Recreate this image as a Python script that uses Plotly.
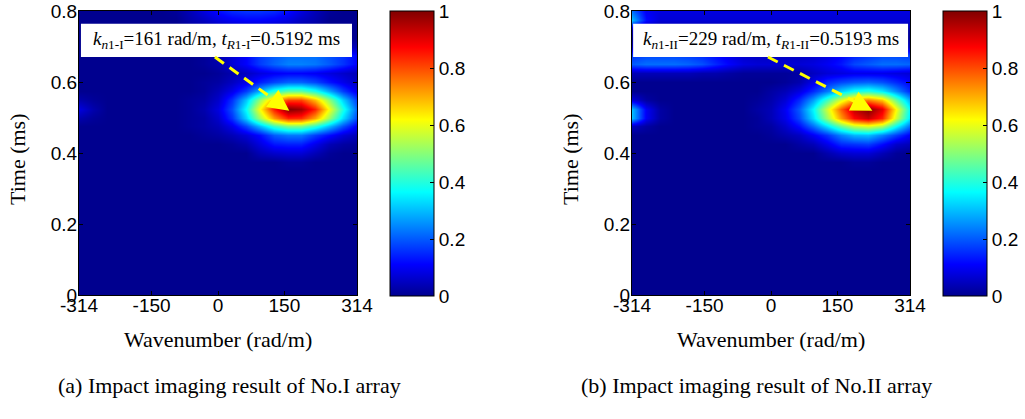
import math
import plotly.graph_objects as go

W, H = 1025, 419

# ---------------- data ----------------
# wavenumber grid (rad/m) and time grid (ms) of the sampled image values
K = [-314, -282.6, -251.2, -219.8, -188.4, -157, -125.6, -94.2, -62.8, -31.4, 0,
     31.4, 62.8, 94.2, 125.6, 157, 188.4, 219.8, 251.2, 282.6, 314]
T = [0, 0.35, 0.375, 0.4, 0.425, 0.45, 0.475, 0.5, 0.525, 0.55, 0.575, 0.6,
     0.625, 0.65, 0.675, 0.7, 0.725, 0.75, 0.775, 0.8]

# No.I array image (rows follow T, columns follow K)
Z1 = [
    [0, 0, 0, 0, 0, 0, 0, 0, 0, 0, 0, 0, 0, 0, 0, 0, 0, 0, 0, 0, 0],
    [0, 0, 0, 0, 0, 0, 0, 0, 0, 0, 0, 0, 0, 0, 0, 0, 0, 0, 0, 0, 0],
    [0, 0, 0, 0, 0, 0, 0, 0, 0, 0, 0, 0, 0, 0, 0, 0.01, 0.01, 0, 0, 0, 0],
    [0, 0, 0, 0, 0, 0, 0, 0, 0, 0, 0, 0, 0, .04, .06, .07, .07, .04, .01, 0, 0],
    [0, 0, 0, 0, 0, 0, 0, 0, 0, 0, 0, .01, .03, .08, .13, .14, .14, .09, .04, .02, .01],
    [0, 0, 0, 0, 0, 0, 0, 0, 0, .01, .02, .04, .07, .12, .20, .23, .23, .17, .12, .07, .04],
    [0, 0, 0, 0, 0, 0, 0, 0, .01, .02, .04, .09, .18, .30, .42, .49, .49, .41, .30, .19, .10],
    [.03, .01, 0, 0, 0, 0, 0, 0, .01, .02, .06, .16, .32, .53, .72, .84, .83, .71, .52, .33, .18],
    [.08, .03, 0, 0, 0, 0, 0, 0, .01, .03, .08, .19, .37, .62, .85, 1.0, .97, .84, .61, .39, .21],
    [.03, .01, 0, 0, 0, 0, 0, 0, .01, .02, .06, .16, .31, .52, .70, .81, .81, .69, .51, .32, .17],
    [0, 0, 0, 0, 0, 0, 0, 0, 0, .01, .04, .09, .17, .29, .40, .46, .46, .39, .28, .17, .09],
    [0, 0, 0, 0, 0, 0, 0, 0, 0, .01, .02, .05, .09, .14, .18, .21, .21, .18, .13, .09, .05],
    [0, 0, 0, 0, 0, 0, 0, 0, 0, 0, .01, .03, .05, .08, .10, .11, .11, .10, .08, .06, .04],
    [0, 0, 0, 0, 0, 0, 0, 0, 0, .01, .03, .07, .11, .17, .21, .24, .24, .23, .20, .16, .11],
    [0, 0, 0, 0, 0, 0, 0, 0, 0, .01, .03, .07, .11, .17, .20, .22, .22, .22, .19, .16, .11],
    [0, 0, 0, 0, 0, 0, 0, 0, 0, 0, .01, .02, .04, .06, .07, .08, .08, .08, .06, .05, .04],
    [0, 0, 0, 0, 0, 0, 0, 0, 0, 0, 0, 0, .01, .01, .01, .01, .01, .01, .01, .01, 0],
    [0, 0, 0, 0, 0, 0, 0, 0, .01, .02, .03, .03, .04, .04, .03, .03, .02, .01, 0, 0, 0],
    [0, 0, 0, 0, 0, 0, 0, 0, .03, .05, .08, .10, .11, .11, .10, .08, .05, .03, 0, 0, 0],
    [0, 0, 0, 0, 0, 0, 0, .01, .04, .08, .12, .15, .16, .16, .15, .12, .08, .04, .01, 0, 0],
]

# No.II array image
Z2 = [
    [0, 0, 0, 0, 0, 0, 0, 0, 0, 0, 0, 0, 0, 0, 0, 0, 0, 0, 0, 0, 0],
    [0, 0, 0, 0, 0, 0, 0, 0, 0, 0, 0, 0, 0, 0, 0, 0, 0, 0, 0, 0, 0],
    [0, 0, 0, 0, 0, 0, 0, 0, 0, 0, 0, 0, 0, 0, 0, 0, .01, .01, 0, 0, 0],
    [0, 0, 0, 0, 0, 0, 0, 0, 0, 0, 0, 0, 0, 0, .03, .06, .07, .07, .04, .01, 0],
    [0, 0, 0, 0, 0, 0, 0, 0, 0, 0, 0, 0, .02, .04, .09, .15, .16, .17, .12, .06, .04],
    [0, 0, 0, 0, 0, 0, 0, 0, 0, 0, .01, .03, .05, .10, .16, .24, .29, .30, .24, .17, .10],
    [.05, .02, 0, 0, 0, 0, 0, 0, 0, .01, .02, .06, .12, .22, .34, .47, .56, .59, .54, .37, .22],
    [.30, .10, .02, 0, 0, 0, 0, 0, 0, .01, .04, .09, .18, .33, .52, .72, .87, .93, .84, .57, .34],
    [.30, .10, .02, 0, 0, 0, 0, 0, 0, .02, .04, .10, .20, .36, .57, .78, .94, 1.0, .90, .62, .36],
    [.08, .02, 0, 0, 0, 0, 0, 0, 0, .01, .03, .07, .15, .27, .43, .59, .71, .75, .68, .47, .28],
    [0, 0, 0, 0, 0, 0, 0, 0, 0, 0, .02, .04, .08, .15, .23, .32, .38, .40, .35, .25, .15],
    [0, 0, 0, 0, 0, 0, 0, 0, 0, 0, 0, .01, .03, .09, .15, .18, .20, .21, .19, .15, .11],
    [.04, .04, .04, .04, .04, .03, .03, .02, .01, .01, .01, .01, .02, .05, .07, .08, .09, .09, .09, .08, .07],
    [.20, .22, .22, .22, .21, .19, .15, .11, .08, .07, .07, .07, .07, .08, .10, .13, .18, .20, .22, .22, .21],
    [.16, .18, .18, .18, .17, .15, .12, .09, .06, .05, .05, .05, .05, .06, .08, .11, .14, .16, .18, .18, .17],
    [.05, .06, .06, .06, .05, .05, .04, .03, .02, .02, .02, .02, .02, .02, .03, .03, .04, .05, .06, .06, .05],
    [.01, .01, .01, .01, .01, .01, .01, .01, .01, .01, .01, .01, .01, .01, .01, .01, .01, .01, .01, .01, .01],
    [.05, .02, .02, .02, .02, .02, .02, .02, .02, .02, .02, .02, .02, .02, .02, .02, .02, .02, .02, .02, .02],
    [.30, .12, .07, .07, .07, .07, .07, .07, .07, .07, .07, .07, .07, .07, .07, .07, .07, .07, .07, .07, .07],
    [.22, .10, .08, .08, .08, .08, .08, .08, .08, .08, .08, .08, .08, .08, .08, .08, .08, .08, .08, .08, .08],
]

X_TICKVALS = [-314, -150, 0, 150, 314]
X_TICKTEXT = ["-314", "-150", "0", "150", "314"]
Y_TICKVALS = [0, 0.2, 0.4, 0.6, 0.8]
Y_TICKTEXT = ["0", "0.2", "0.4", "0.6", "0.8"]
CB_TICKVALS = [0, 0.2, 0.4, 0.6, 0.8, 1]
CB_TICKTEXT = ["0", "0.2", "0.4", "0.6", "0.8", "1"]

PEAK_K = [161, 229]
PEAK_T = [0.5192, 0.5193]
BOX_TEXT = [
    "<i>k</i><sub><i>n</i>1-I</sub>=161 rad/m, <i>t</i><sub><i>R</i>1-I</sub>=0.5192 ms",
    "<i>k</i><sub><i>n</i>1-II</sub>=229 rad/m, <i>t</i><sub><i>R</i>1-II</sub>=0.5193 ms",
]
CAPTIONS = ["(a) Impact imaging result of No.I array",
            "(b) Impact imaging result of No.II array"]
X_TITLE = "Wavenumber (rad/m)"
Y_TITLE = "Time (ms)"

# ---------------- style ----------------
SERIF = "Liberation Serif"
SANS = "Liberation Sans"
JET = [[0.0, "rgb(0,0,143)"], [0.111, "rgb(0,0,255)"], [0.365, "rgb(0,255,255)"],
       [0.619, "rgb(255,255,0)"], [0.873, "rgb(255,0,0)"], [1.0, "rgb(128,0,0)"]]
YELLOW = "#FFFF00"

PANELS = [dict(left=79, right=357, cb=390, ytitle=18, caption=229, box=(0.007, 0.982)),
          dict(left=632, right=910, cb=943, ytitle=571, caption=756, box=(0.004, 0.993))]
TOP, BOTTOM = 11, 295
XR = [-314, 314]
YR = [0, 0.8]
BOX_Y = (0.838, 0.955)

fig = go.Figure()
annotations = []
shapes = []

for i, (Z, p) in enumerate(zip([Z1, Z2], PANELS)):
    sfx = "" if i == 0 else str(i + 1)
    xa, ya = "x" + sfx, "y" + sfx
    fig.add_trace(go.Heatmap(
        x=K, y=T, z=Z, xaxis=xa, yaxis=ya, zmin=0, zmax=1, zsmooth="best",
        colorscale=JET, hoverinfo="skip",
        colorbar=dict(
            x=p["cb"] / W, xanchor="left", y=(H - 296) / H, yanchor="bottom",
            len=285 / H, lenmode="fraction", thickness=44, thicknessmode="pixels",
            xpad=0, ypad=0, outlinecolor="black", outlinewidth=1,
            ticks="inside", ticklen=4, tickcolor="black",
            ticklabeloverflow="allow",
            tickvals=CB_TICKVALS, ticktext=CB_TICKTEXT,
            tickfont=dict(family=SANS, size=19, color="black"),
        ),
    ))
    axcommon = dict(showgrid=False, zeroline=False, showline=True, linecolor="black",
                    linewidth=1, mirror="ticks", ticks="inside", ticklen=4,
                    tickcolor="black", ticklabeloverflow="allow",
                    tickfont=dict(family=SANS, size=19, color="black"))
    fig.update_layout(**{
        "xaxis" + sfx: dict(domain=[p["left"] / W, p["right"] / W], range=XR,
                            tickvals=X_TICKVALS, ticktext=X_TICKTEXT, anchor=ya,
                            ticklabelstandoff=-7, **axcommon),
        "yaxis" + sfx: dict(domain=[(H - BOTTOM) / H, (H - TOP) / H], range=YR,
                            tickvals=Y_TICKVALS, ticktext=Y_TICKTEXT, anchor=xa,
                            ticklabelstandoff=-3, **axcommon),
    })

    # white label box and text
    shapes.append(dict(type="rect", xref=xa + " domain", yref=ya + " domain",
                       x0=p["box"][0], x1=p["box"][1], y0=BOX_Y[0], y1=BOX_Y[1],
                       fillcolor="white", line=dict(width=0), layer="above"))
    annotations.append(dict(xref=xa + " domain", yref=ya + " domain",
                            x=(p["box"][0] + p["box"][1]) / 2, y=(BOX_Y[0] + BOX_Y[1]) / 2,
                            text=BOX_TEXT[i], showarrow=False,
                            font=dict(family=SERIF, size=19, color="black"),
                            xanchor="center", yanchor="middle"))

    # dashed yellow arrow from label box to the peak
    sx = (p["right"] - p["left"]) / (XR[1] - XR[0])
    sy = (BOTTOM - TOP) / (YR[1] - YR[0])
    start_k = XR[0] + 0.489 * (XR[1] - XR[0])
    start_t = YR[0] + BOX_Y[0] * (YR[1] - YR[0])
    tip_k, tip_t = PEAK_K[i], PEAK_T[i]
    dxp = (tip_k - start_k) * sx
    dyp = (tip_t - start_t) * sy
    L = math.hypot(dxp, dyp)
    f = 17 / L
    tail_k = tip_k - (tip_k - start_k) * f
    tail_t = tip_t - (tip_t - start_t) * f
    shapes.append(dict(type="line", xref=xa, yref=ya, x0=start_k, y0=start_t,
                       x1=tail_k, y1=tail_t,
                       line=dict(color=YELLOW, width=3, dash="11px,7px"), layer="above"))
    annotations.append(dict(xref=xa, yref=ya, axref=xa, ayref=ya, x=tip_k, y=tip_t,
                            ax=tail_k, ay=tail_t, text="", showarrow=True,
                            arrowhead=2, arrowsize=1.4, arrowwidth=3,
                            arrowcolor=YELLOW, standoff=0))

    # axis titles and caption
    cx = (p["left"] + p["right"]) / 2 / W
    annotations.append(dict(xref="paper", yref="paper", x=cx, y=1 - 339 / H,
                            text=X_TITLE, showarrow=False, xanchor="center",
                            yanchor="middle", font=dict(family=SERIF, size=22, color="black")))
    annotations.append(dict(xref="paper", yref="paper", x=p["ytitle"] / W, y=1 - 160 / H,
                            text=Y_TITLE, showarrow=False, textangle=-90, xanchor="center",
                            yanchor="middle", font=dict(family=SERIF, size=22, color="black")))
    annotations.append(dict(xref="paper", yref="paper", x=p["caption"] / W, y=1 - 385 / H,
                            text=CAPTIONS[i], showarrow=False, xanchor="center",
                            yanchor="middle", font=dict(family=SERIF, size=22, color="black")))

fig.update_layout(
    width=W, height=H, margin=dict(l=0, r=0, t=0, b=0, autoexpand=False),
    paper_bgcolor="white", plot_bgcolor="white", showlegend=False,
    annotations=annotations, shapes=shapes,
)

# remove the browser's default page margin so the figure sits at the window origin
fig.write_html("out.html", config={"displayModeBar": False},
               post_script="document.body.style.margin='0';")
